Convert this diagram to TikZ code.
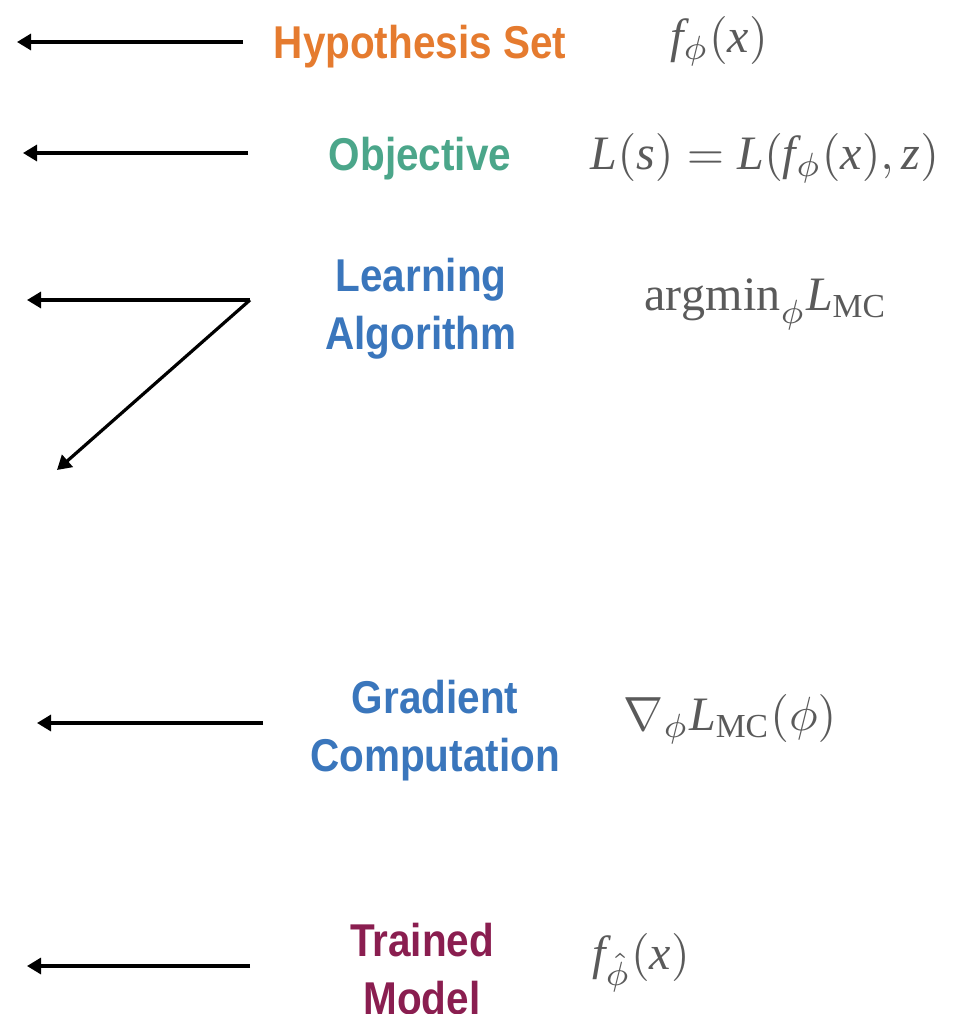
\documentclass[tikz,border=0pt]{standalone}
\usepackage{graphicx}
\usepackage{fontspec}
\setmainfont{Liberation Serif}
\newfontfamily\labfont[FakeStretch=0.88]{Liberation Sans Bold}
\usetikzlibrary{arrows.meta}
\definecolor{hypcol}{HTML}{E57B2F}
\definecolor{objcol}{HTML}{4BA68A}
\definecolor{algcol}{HTML}{3A76BC}
\definecolor{modcol}{HTML}{8A1E50}
\definecolor{mathgray}{HTML}{5A5A5A}
\newcommand{\bigmath}[1]{\scalebox{4.8}{$#1$}}
\begin{document}
\begin{tikzpicture}[x=1pt,y=-1pt,
  lab/.style={font=\labfont\fontsize{46}{58}\selectfont, align=center, inner sep=0pt},
  mth/.style={text=mathgray, inner sep=0pt},
  arr/.style={line width=3.2pt, -{Triangle[length=14pt,width=16pt]}}]
\useasboundingbox (0,0) rectangle (972,1014);
% labels
\node[lab, text=hypcol] (hyp) at (420,47) {Hypothesis Set};
\node[lab, text=objcol] (obj) at (420,159) {Objective};
\node[lab, text=algcol] (alg) at (421,309) {Learning\\Algorithm};
\node[lab, text=algcol] (grad) at (435,731) {Gradient\\Computation};
\node[lab, text=modcol] (mod) at (422,969) {Trained\\Model};
% formulas
\node[mth] (m1) at (719,41) {\bigmath{\mathit{f}_{\phi}(\mathit{x})}};
\node[mth] (m2) at (765,158) {\bigmath{\mathit{L}(\mathit{s}) = \mathit{L}(\mathit{f}_{\phi}(\mathit{x}), \mathit{z})}};
\node[mth] (m3) at (766,304) {\bigmath{\mathrm{argmin}_{\phi}\mathit{L}_{\mathrm{MC}}}};
\node[mth] (m4) at (730,719) {\bigmath{\nabla_{\phi}\mathit{L}_{\mathrm{MC}}(\phi)}};
\node[mth] (m5) at (641,963) {\bigmath{\mathit{f}_{\hat{\phi}}(\mathit{x})}};
% arrow end points
\coordinate (a1s) at (243,42);  \coordinate (a1e) at (17,42);
\coordinate (a2s) at (248,153); \coordinate (a2e) at (23,153);
\coordinate (a3s) at (250,300); \coordinate (a3e) at (27,300);
\coordinate (a3d) at (57,470);
\coordinate (a4s) at (263,723); \coordinate (a4e) at (37,723);
\coordinate (a5s) at (250,966); \coordinate (a5e) at (27,966);
\draw[arr] (a1s) -- (a1e);
\draw[arr] (a2s) -- (a2e);
\draw[arr] (a3s) -- (a3e);
\draw[arr] (a3s) -- (a3d);
\draw[arr] (a4s) -- (a4e);
\draw[arr] (a5s) -- (a5e);
\end{tikzpicture}
\end{document}
